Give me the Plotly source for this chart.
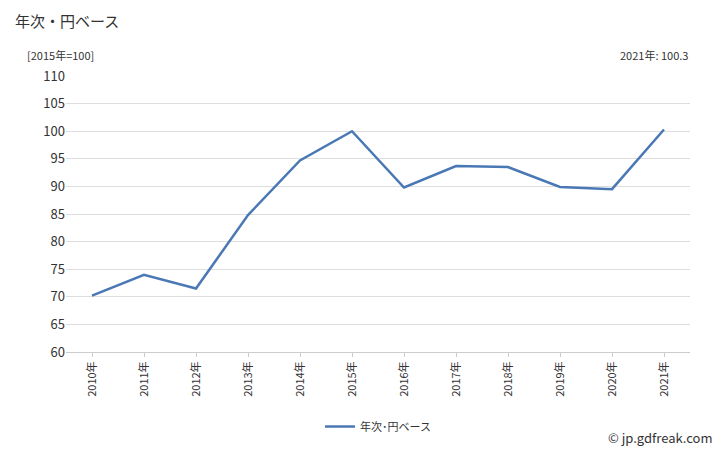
import plotly.graph_objects as go

years = ["2010年","2011年","2012年","2013年","2014年","2015年","2016年","2017年","2018年","2019年","2020年","2021年"]
values = [70.2, 74.0, 71.5, 84.8, 94.7, 100.0, 89.8, 93.7, 93.5, 89.9, 89.5, 100.3]
series_name = "年次･円ベース"

fig = go.Figure()
fig.add_trace(go.Scatter(x=years, y=values, mode="lines", name=series_name,
                         line=dict(color="#4a78b5", width=2.5)))
font = "Noto Sans CJK JP"
fig.update_layout(
    width=712, height=442, plot_bgcolor="white", paper_bgcolor="white",
    margin=dict(l=58, r=30, t=68, b=98, autoexpand=False),
    font=dict(family=font, size=12, color="#333"),
    showlegend=True,
    legend=dict(orientation="h", x=0.5, xanchor="center", y=-0.27, yanchor="middle", font=dict(size=11)),
    xaxis=dict(tickangle=-90, showgrid=False, showline=True, linecolor="#ccc", range=[-0.5, 11.5],
               ticks="outside", ticklen=4, tickcolor="#ccc", tickfont=dict(size=11)),
    yaxis=dict(range=[60, 110], dtick=5, gridcolor="#ddd", showline=False,
               tickfont=dict(size=13), ticklen=0),
    annotations=[
        dict(text="年次・円ベース", xref="paper", yref="paper", x=-0.085, y=1.20, xanchor="left", yanchor="middle", showarrow=False, font=dict(size=15)),
        dict(text="[2015年=100]", xref="paper", yref="paper", x=-0.065, y=1.076, xanchor="left", yanchor="middle", showarrow=False, font=dict(size=11)),
        dict(text="2021年: 100.3", xref="paper", yref="paper", x=1.0, y=1.076, xanchor="right", yanchor="middle", showarrow=False, font=dict(size=11)),
        dict(text="© jp.gdfreak.com", xref="paper", yref="paper", x=1.04, y=-0.31, xanchor="right", yanchor="middle", showarrow=False, font=dict(size=13)),
    ],
)
fig.write_html("out.html")
